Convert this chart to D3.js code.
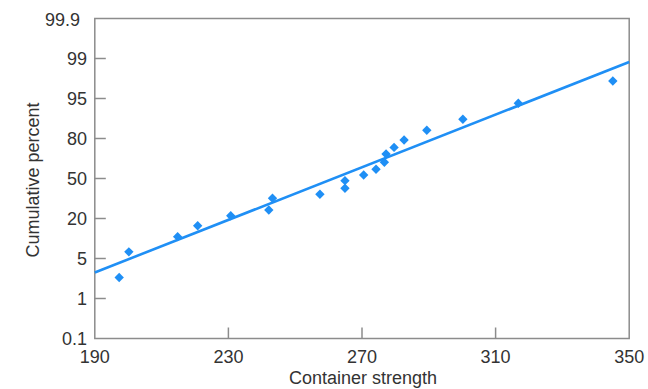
<!DOCTYPE html>
<html>
<head>
<meta charset="utf-8">
<script src="https://cdn.jsdelivr.net/npm/d3@7"></script>
<style>
  html, body { margin: 0; padding: 0; background: #fff; }
  svg { display: block; }
  text { font-family: "Liberation Sans", Arial, sans-serif; fill: #333; }
</style>
</head>
<body>
<svg id="chart" width="648" height="389"></svg>
<script>
// Container strength observations and their cumulative percent
const strength = [197.3, 200.2, 214.8, 220.8, 230.7, 242.1, 243.2, 257.4, 264.9, 264.9,
                  270.5, 274.2, 276.7, 277.2, 279.6, 282.6, 289.4, 300.2, 316.8, 345.1];
const cumPercent = [3.1, 7.5, 13.2, 17.3, 22.1, 26.4, 35.2, 38.2, 42.7, 48.4,
                    52.6, 56.9, 62.2, 68.4, 73.3, 78.9, 83.1, 87.2, 93.2, 96.75];

// Fitted reference line (end points)
const fitStrength = [190, 350];
const fitPercent = [3.6, 98.65];

// Axis ticks
const xTicks = [190, 230, 270, 310, 350];
const yTicks = [0.1, 1, 5, 20, 50, 80, 95, 99, 99.9];

const svg = d3.select("#chart");
const plotLeft = 94.8, plotRight = 629.2, plotTop = 18.5, plotBottom = 338.5;
const blue = "#1f8ff5";
const frameColor = "#8c8c8c";

const x = d3.scaleLinear().domain([190, 350]).range([plotLeft, plotRight]);
// Probability axis: the labelled percentages sit at equal spacing
const y = d3.scaleLinear()
  .domain(yTicks)
  .range(yTicks.map((d, i) => plotBottom - i * (plotBottom - plotTop) / (yTicks.length - 1)));

// Plot frame
svg.append("rect")
  .attr("x", plotLeft).attr("y", plotTop)
  .attr("width", plotRight - plotLeft).attr("height", plotBottom - plotTop)
  .attr("fill", "none").attr("stroke", frameColor).attr("stroke-width", 1.5);

// Inward tick marks
const tickLen = 11;
svg.append("g").selectAll("line")
  .data(yTicks.slice(1, -1)).join("line")
  .attr("x1", plotLeft).attr("x2", plotLeft + tickLen)
  .attr("y1", d => y(d)).attr("y2", d => y(d))
  .attr("stroke", frameColor).attr("stroke-width", 1.5);

svg.append("g").selectAll("line")
  .data(xTicks.slice(1, -1)).join("line")
  .attr("x1", d => x(d)).attr("x2", d => x(d))
  .attr("y1", plotBottom).attr("y2", plotBottom - tickLen)
  .attr("stroke", frameColor).attr("stroke-width", 1.5);

// Tick labels
svg.append("g").selectAll("text")
  .data(yTicks).join("text")
  .attr("x", d => d === 99.9 ? 80 : 87)
  .attr("y", d => y(d) + (d === 99.9 ? 1 : 0))
  .attr("dy", "0.35em")
  .attr("text-anchor", "end")
  .attr("font-size", 18)
  .text(d => d);

svg.append("g").selectAll("text")
  .data(xTicks).join("text")
  .attr("x", d => x(d))
  .attr("y", 362.5)
  .attr("text-anchor", "middle")
  .attr("font-size", 18)
  .text(d => d);

// Axis titles
svg.append("text")
  .attr("x", 363).attr("y", 384)
  .attr("text-anchor", "middle")
  .attr("font-size", 18)
  .text("Container strength");

svg.append("text")
  .attr("transform", "translate(39,180) rotate(-90)")
  .attr("text-anchor", "middle")
  .attr("font-size", 18)
  .text("Cumulative percent");

// Fitted line
const fit = fitStrength.map((s, i) => [s, fitPercent[i]]);
svg.append("path")
  .datum(fit)
  .attr("d", d3.line().x(d => x(d[0])).y(d => y(d[1])))
  .attr("fill", "none")
  .attr("stroke", blue)
  .attr("stroke-width", 2.6);

// Data points as diamonds
const pts = strength.map((s, i) => [s, cumPercent[i]]);
svg.append("g").selectAll("path")
  .data(pts).join("path")
  .attr("d", d3.symbol(d3.symbolSquare, 44))
  .attr("transform", d => `translate(${x(d[0])},${y(d[1])}) rotate(45)`)
  .attr("fill", blue);
</script>
</body>
</html>
